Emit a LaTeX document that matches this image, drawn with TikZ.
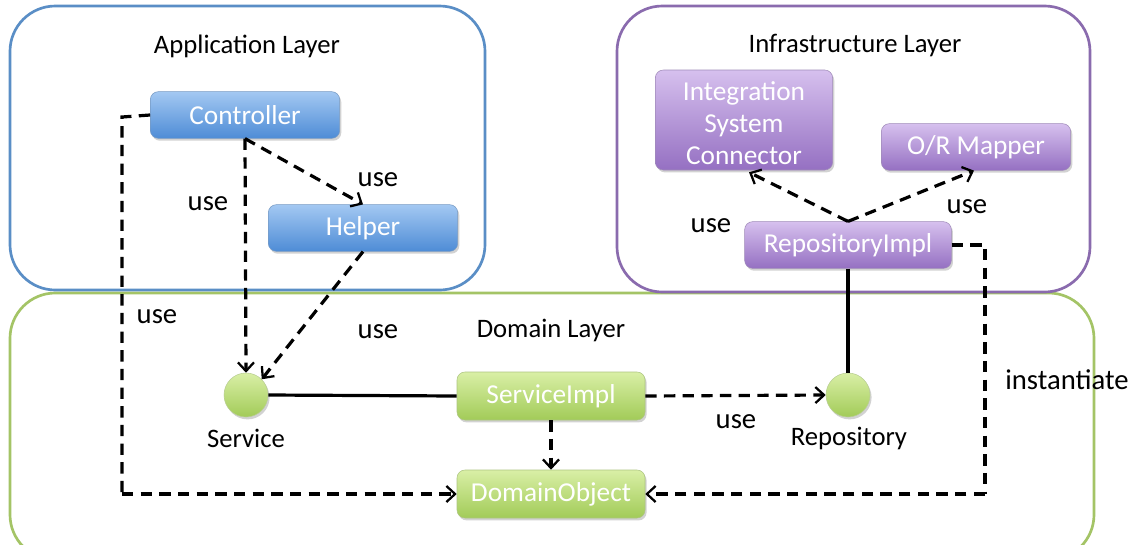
\documentclass[tikz,border=0pt]{standalone}
\usepackage{fontspec}
\setmainfont{Carlito}
\usetikzlibrary{arrows.meta,shadows,calc}
\definecolor{bluetop}{HTML}{A3C8F2}
\definecolor{bluebot}{HTML}{4E8CD6}
\definecolor{purtop}{HTML}{D6C0EE}
\definecolor{purbot}{HTML}{9570C2}
\definecolor{grntop}{HTML}{D9EFA6}
\definecolor{grnbot}{HTML}{A2CB58}
\definecolor{blueline}{HTML}{5A8EC6}
\definecolor{purline}{HTML}{8A6BAE}
\definecolor{grnline}{HTML}{A4C466}
\tikzset{
  layer/.style={rounded corners=34pt, line width=2pt},
  box/.style={rounded corners=6pt, text=white, font=\fontsize{20.5}{24}\selectfont, inner sep=0pt,
    drop shadow={opacity=0.35, shadow xshift=1.2pt, shadow yshift=-1.8pt}},
  bluebox/.style={box, draw=bluebot!80!black!70, top color=bluetop, bottom color=bluebot},
  purbox/.style={box, draw=purbot!80!black!70, top color=purtop, bottom color=purbot},
  grnbox/.style={box, draw=grnbot!85!black!70, top color=grntop, bottom color=grnbot},
  iface/.style={circle, minimum size=33pt, inner sep=0pt, draw=grnbot!85!black!60, top color=grntop, bottom color=grnbot,
    drop shadow={opacity=0.35, shadow xshift=1.2pt, shadow yshift=-1.8pt}},
  dep/.style={line width=2.4pt, dash pattern=on 8.5pt off 5.5pt, -{Straight Barb[length=6.5pt,width=12pt,line width=1.7pt]}},
  deppath/.style={line width=2.4pt, dash pattern=on 8.5pt off 5.5pt},
  solidln/.style={line width=2.4pt},
  lbl/.style={font=\fontsize{21.5}{24}\selectfont, text=black},
  ttl/.style={font=\fontsize{20}{24}\selectfont, text=black},
  small/.style={font=\fontsize{20}{24}\selectfont, text=black},
}
\begin{document}
\begin{tikzpicture}[x=0.75pt,y=-0.75pt]
\useasboundingbox (0,0) rectangle (1140,544);
\fill[white] (0,0) rectangle (1140,544);
% layers
\draw[layer, draw=grnline] (10,293) rectangle (1094,560);
\draw[layer, draw=blueline] (10,6) rectangle (485,290);
\draw[layer, draw=purline] (617,6) rectangle (1090,292);
\node[ttl] (tapp) at (247,46) {Application Layer};
\node[ttl] (tinf) at (855,46) {Infrastructure Layer};
\node[ttl] (tdom) at (551,330) {Domain Layer};
% nodes
\node[bluebox, minimum width=142pt, minimum height=35pt] (ctrl) at (245,115) {Controller};
\node[bluebox, minimum width=142pt, minimum height=35pt] (help) at (363,228) {Helper};
\node[purbox, minimum width=133pt, minimum height=75pt] (isc) at (744,120) {\raisebox{-10pt}[0pt][0pt]{\begin{tabular}{@{}c@{}}Integration\\System\\Connector\end{tabular}}};
\node[purbox, minimum width=142pt, minimum height=35pt] (orm) at (976,147) {O/R Mapper};
\node[purbox, minimum width=155pt, minimum height=35pt] (rimp) at (848,245) {RepositoryImpl};
\node[grnbox, minimum width=141pt, minimum height=36pt] (simp) at (551,396) {ServiceImpl};
\node[grnbox, minimum width=141pt, minimum height=36pt] (dobj) at (551,494) {DomainObject};
\node[iface] (svc) at (246,395) {};
\node[iface] (repo) at (848,395) {};
\node[small] (svcl) at (246,438) {Service};
\node[small] (repol) at (849,438) {Repository};
% coordinates for routing
\coordinate (c1) at (122,117);
\coordinate (c2) at (122,494);
\coordinate (r1) at (985,245);
\coordinate (r2) at (985,494);
% connectors
\draw[deppath] (ctrl.west) -- (c1) -- (c2);
\draw[dep] (c2) -- (dobj.west);
\draw[dep] (ctrl.south) -- (svc.north);
\draw[dep] (ctrl.south) -- (help.north);
\draw[dep] (help.south) -- (svc.north east);
\draw[solidln] (svc.east) -- (simp.west);
\draw[dep] (simp.east) -- (repo.west);
\draw[dep] (simp.south) -- (dobj.north);
\draw[dep] (rimp.north) -- ($(isc.south)+(5,2)$);
\draw[dep] (rimp.north) -- ($(orm.south)+(-2,0)$);
\draw[solidln] (rimp.south) -- (repo.north);
\draw[deppath] (rimp.east) -- (r1) -- (r2);
\draw[dep] (r2) -- (dobj.east);
% labels
\node[lbl] (u1) at (208,204) {use};
\node[lbl] (u2) at (378,180) {use};
\node[lbl] (u3) at (157,317) {use};
\node[lbl] (u4) at (378,332) {use};
\node[lbl] (u5) at (711,226) {use};
\node[lbl] (u6) at (967,207) {use};
\node[lbl] (u7) at (736,422) {use};
\node[lbl] (inst) at (1067,380) {instantiate};
\end{tikzpicture}
\end{document}
